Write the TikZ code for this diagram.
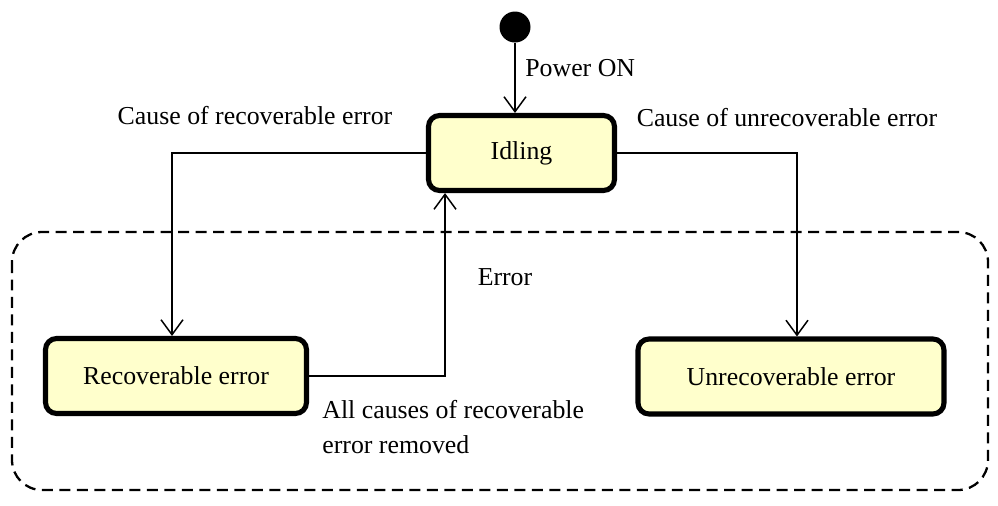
\documentclass[tikz,border=0pt]{standalone}
\usepackage{fontspec}
\setmainfont{Liberation Serif}
\usetikzlibrary{arrows.meta}
\definecolor{statefill}{HTML}{FFFFCC}
\tikzset{
  state/.style={draw, line width=2.9pt, rounded corners=0.22cm, fill=statefill,
    minimum height=1.5cm, font=\fontsize{14.7}{17}\selectfont},
  initdot/.style={circle, fill=black, inner sep=0pt, minimum size=0.62cm},
  trans/.style={line width=0.85pt, -{Straight Barb[length=0.3cm, width=0.44cm, line width=0.85pt]}},
  lbl/.style={font=\fontsize{14.7}{19.9}\selectfont, inner sep=0pt},
  errregion/.style={line width=1.3pt, dash pattern=on 0.22cm off 0.13cm, rounded corners=0.6cm}
}
\begin{document}
\begin{tikzpicture}[x=0.02cm, y=-0.02cm]
\useasboundingbox (0,0) rectangle (998,505);

% Error region
\draw[errregion] (12,232) rectangle (988,490);
\node[lbl] (errlabel) at (505,277) {Error};

% States
\node[state, minimum width=3.72cm] (idle) at (521.5,153) {Idling};
\node[state, minimum width=5.22cm] (rec) at (176,376) {Recoverable error};
\node[state, minimum width=6.12cm] (unrec) at (791,376.5) {Unrecoverable error};
\node[initdot] (start) at (515,27) {};

% Transitions
\draw[trans] (start) -- (start |- idle.north);
\draw[trans] (idle.west) -| ([xshift=-0.08cm]rec.north);
\draw[trans] (idle.east) -| ([xshift=0.12cm]unrec.north);
\draw[trans] (rec.east) -| ([xshift=-1.53cm]idle.south);

% Labels
\node[lbl, anchor=west] (poweron) at (525,68) {Power ON};
\node[lbl] (recause) at (255,116) {Cause of recoverable error};
\node[lbl] (unrecause) at (787,118) {Cause of unrecoverable error};
\node[lbl, anchor=north west, align=left] (removed) at (322,400)
  {All causes of recoverable\\error removed};
\end{tikzpicture}
\end{document}
